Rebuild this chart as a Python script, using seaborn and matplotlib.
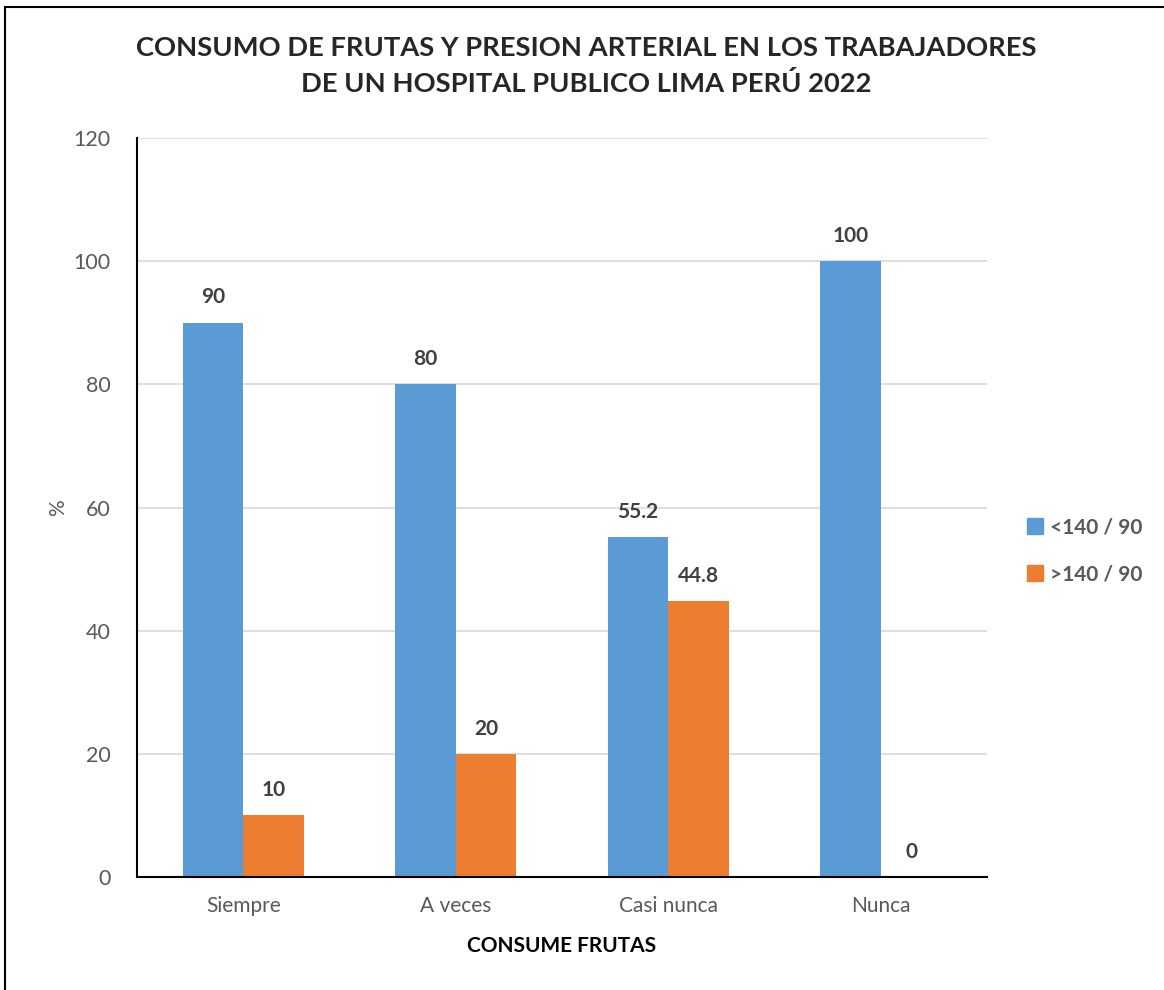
import matplotlib
matplotlib.use('Agg')
import matplotlib.pyplot as plt
import matplotlib.patches as mpatches
import seaborn as sns
import pandas as pd

# Data
categorias = ['Siempre', 'A veces', 'Casi nunca', 'Nunca']
menor_140 = [90, 80, 55.2, 100]
mayor_140 = [10, 20, 44.8, 0]
series = ['<140 / 90', '>140 / 90']
y_ticks = [0, 20, 40, 60, 80, 100, 120]

colores = ['#5B9BD5', '#ED7D31']
gris = '#595959'

sns.set_style("white")
plt.rcParams['font.family'] = ['Lato', 'DejaVu Sans']

df = pd.DataFrame({
    'Consumo': categorias * 2,
    'Valor': menor_140 + mayor_140,
    'Presion': [series[0]] * len(categorias) + [series[1]] * len(categorias),
})

fig = plt.figure(figsize=(11.64, 9.9), dpi=100)
ax = fig.add_axes([137 / 1164, 113 / 990, 850 / 1164, 739 / 990])

sns.barplot(data=df, x='Consumo', y='Valor', hue='Presion', order=categorias,
            hue_order=series, palette=colores, width=0.57, gap=0,
            saturation=1, linewidth=0, ax=ax, legend=False)

for cont in ax.containers:
    ax.bar_label(cont, fmt='%g', padding=11, fontsize=15, fontweight='bold',
                 color='#404040')

ax.set_ylim(0, 120)
ax.set_xlim(-0.5, 3.5)
ax.set_yticks(y_ticks)
ax.yaxis.grid(True, color='#D9D9D9', linewidth=1.2)
ax.set_axisbelow(True)
for s in ['top', 'right']:
    ax.spines[s].set_visible(False)
ax.spines['left'].set_color('black')
ax.spines['bottom'].set_color('black')
ax.spines['left'].set_linewidth(1.5)
ax.spines['bottom'].set_linewidth(1.5)
ax.tick_params(axis='y', length=7, width=1.5, color='black', labelsize=15.5,
               labelcolor=gris, pad=12)
ax.tick_params(axis='x', length=0, labelsize=15, labelcolor=gris, pad=14)

ax.set_xlabel('CONSUME FRUTAS', fontsize=15, fontweight='bold', color='black',
              labelpad=14)
ax.set_ylabel('%', fontsize=15, color=gris, labelpad=4)

fig.suptitle('CONSUMO DE FRUTAS Y PRESION ARTERIAL EN LOS TRABAJADORES\n'
             'DE UN HOSPITAL PUBLICO LIMA PERÚ 2022',
             x=586 / 1164, y=1 - 36 / 990, va='top', fontsize=19.7,
             fontweight='bold', linespacing=1.5)

handles = [mpatches.Patch(color=c, label=l) for c, l in zip(colores, series)]
leg = fig.legend(handles=handles, loc='center left',
                 bbox_to_anchor=(1008 / 1164, 1 - 551 / 990), frameon=False,
                 handlelength=0.8, handleheight=0.8, handletextpad=0.3,
                 labelspacing=1.3, prop={'size': 15, 'weight': 'bold'})
for t in leg.get_texts():
    t.set_color(gris)

# chart frame
fig.patches.append(mpatches.Rectangle((5 / 1164, -0.05), 1.1, 1 - 7 / 990 + 0.05,
                                      transform=fig.transFigure, fill=False,
                                      edgecolor='black', linewidth=1.5))

fig.savefig('out.png', dpi=100)
